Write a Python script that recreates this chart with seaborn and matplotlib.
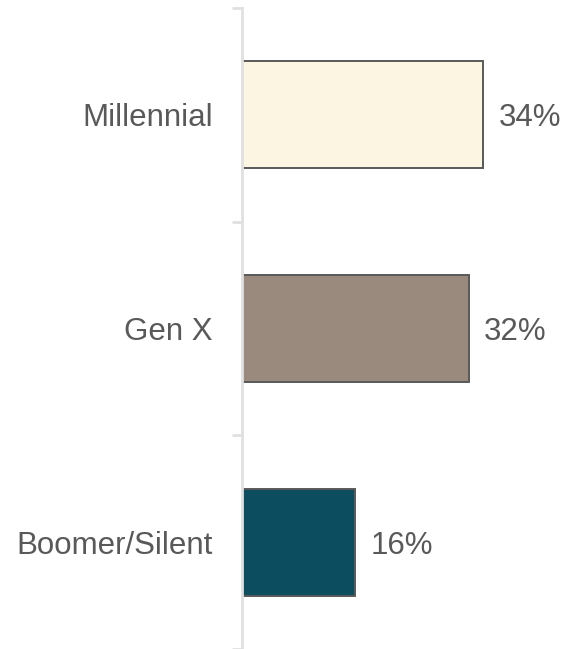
import matplotlib
matplotlib.use("Agg")
import matplotlib.pyplot as plt
import seaborn as sns
import pandas as pd

generations = ["Millennial", "Gen X", "Boomer/Silent"]
shares = [34, 32, 16]
bar_colors = ["#FBF5E1", "#9A8A7E", "#0C4E5F"]

sns.set_style("white")
plt.rcParams["font.family"] = ["Liberation Sans", "DejaVu Sans"]

W, H, DPI = 563, 649, 100
fig = plt.figure(figsize=(W / DPI, H / DPI), dpi=DPI)
ax = fig.add_axes([242 / W, 0.0, (561 - 242) / W, 641 / H])

df = pd.DataFrame({"generation": generations, "share": shares})
sns.barplot(data=df, x="share", y="generation", hue="generation",
            palette=bar_colors, saturation=1, orient="h", width=0.5,
            legend=False, edgecolor="#595959", linewidth=1.4, ax=ax)

text_color = "#595959"
for container, val in zip(ax.containers, shares):
    labels = ax.bar_label(container, labels=[f"{val}%"], padding=11,
                          fontsize=22.5, color=text_color)
    for t in labels:
        t.set_va("center_baseline")

ax.set_xlim(0, 45)
ax.set_ylim(2.5, -0.5)
ax.set_xlabel("")
ax.set_ylabel("")
ax.set_xticks([])

for side in ["top", "right", "bottom"]:
    ax.spines[side].set_visible(False)
ax.spines["left"].set_color("#E0E0E0")
ax.spines["left"].set_linewidth(2)

# category labels without marks, separators as minor ticks
ax.tick_params(axis="y", which="major", length=0, pad=21,
               labelsize=22.5, labelcolor=text_color)
ax.set_yticks([-0.5, 0.5, 1.5, 2.5], minor=True)
ax.tick_params(axis="y", which="minor", length=7.5, width=2,
               color="#E0E0E0", left=True)

fig.savefig("out.png", dpi=DPI)
